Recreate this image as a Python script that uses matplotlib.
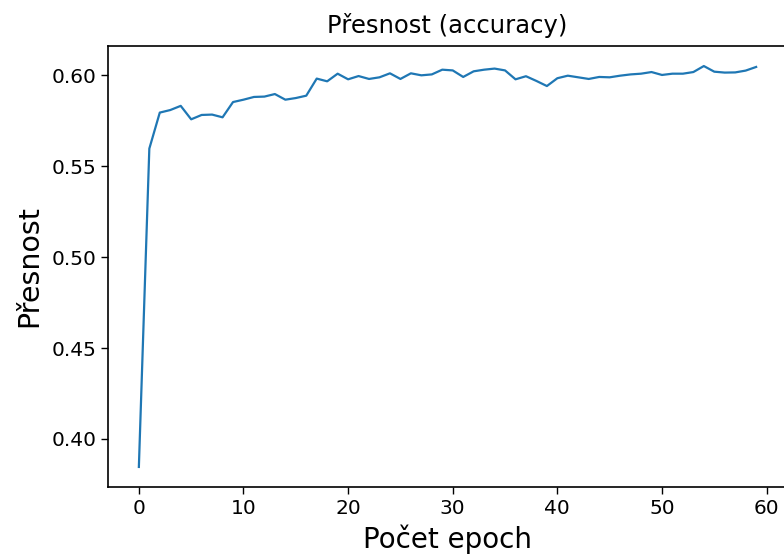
import matplotlib
matplotlib.use('Agg')
import matplotlib.pyplot as plt
import numpy as np

# accuracy per epoch
epochs = np.arange(60)
accuracy = [0.3846, 0.5597, 0.5795, 0.5809, 0.5832, 0.5758, 0.5782, 0.5784, 0.5769, 0.5853,
            0.5866, 0.5881, 0.5883, 0.5897, 0.5866, 0.5875, 0.5888, 0.5982, 0.5967, 0.6009,
            0.5978, 0.5996, 0.5980, 0.5989, 0.6011, 0.5980, 0.6011, 0.6000, 0.6005, 0.6031,
            0.6027, 0.5991, 0.6022, 0.6031, 0.6037, 0.6027, 0.5978, 0.5995, 0.5969, 0.5941,
            0.5984, 0.5998, 0.5989, 0.5980, 0.5991, 0.5989, 0.5998, 0.6005, 0.6009, 0.6018,
            0.6002, 0.6009, 0.6009, 0.6018, 0.6051, 0.6020, 0.6015, 0.6016, 0.6026, 0.6046]

fig = plt.figure(figsize=(7.84, 5.56), dpi=100)
ax = fig.add_axes([108/784, 69/556, 679/784, 441/556])
ax.plot(epochs, accuracy, color='#1f77b4', linewidth=1.6)
ax.set_title('Přesnost (accuracy)', fontsize=17.5, pad=9)
ax.set_xlabel('Počet epoch', fontsize=20, labelpad=5)
ax.set_ylabel('Přesnost', fontsize=20.5, labelpad=6)
ax.tick_params(labelsize=14.5, width=1, length=5)
for s in ax.spines.values():
    s.set_linewidth(1.2)
ax.set_yticks([0.40, 0.45, 0.50, 0.55, 0.60])
ax.set_xticks([0, 10, 20, 30, 40, 50, 60])

fig.savefig('out.png', dpi=100)
